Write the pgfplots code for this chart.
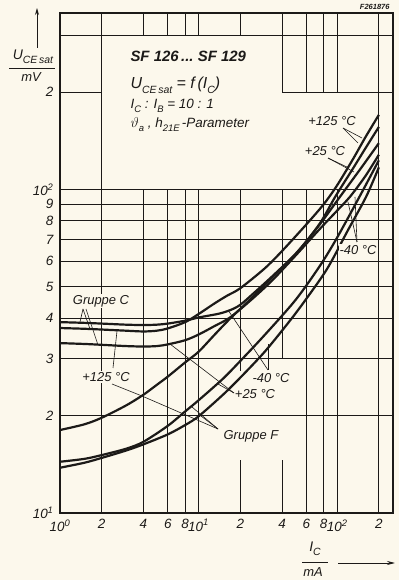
\documentclass[border=0pt]{standalone}
\usepackage{fontspec}
\setmainfont{Liberation Sans}
\usepackage{pgfplots}
\pgfplotsset{compat=1.18}
\usetikzlibrary{arrows.meta}
\definecolor{paper}{RGB}{252,248,236}
\definecolor{ink}{RGB}{28,26,24}
\newcommand\tickfont{\fontsize{13.5}{14}\selectfont\itshape}
\newcommand\labfont{\fontsize{13}{14}\selectfont\itshape}
\newcommand\sub[1]{\raisebox{-0.32em}{\fontsize{10.5}{11}\selectfont #1}}
\newcommand\ssub[1]{\raisebox{-0.3em}{\fontsize{9.5}{10}\selectfont #1}}
\tikzset{gridl/.style={ink, line width=0.85bp},
  ptr/.style={ink, line width=0.6bp},
  lab/.style={font=\labfont, text=ink, fill=paper, inner sep=1bp}}
\pgfplotsset{curve/.style={ink, line width=2.2bp, smooth, no markers}}
\begin{document}
\begin{tikzpicture}
\useasboundingbox (0,0) rectangle (399bp,580bp);
\fill[paper] (0,0) rectangle (399bp,580bp);
\begin{axis}[
  at={(60bp,67bp)}, anchor=south west,
  scale only axis, width=333bp, height=500bp,
  xmode=log, ymode=log, xmin=1, xmax=253, ymin=10, ymax=351,
  axis line style={ink, line width=1.2bp},
  xtick={1,2,4,6,8,10,20,40,60,80,100,200},
  xticklabels={10\textsuperscript{0},2,4,6,8,10\textsuperscript{1},2,4,6,8,10\textsuperscript{2},2},
  ytick={10,20,30,40,50,60,70,80,90,100,200},
  yticklabels={10\textsuperscript{1},2,3,4,5,6,7,8,9,10\textsuperscript{2},2},
  minor xtick={}, minor ytick={},
  major tick length=0pt, tick style={draw=none},
  ticklabel style={font=\tickfont, text=ink},
  xticklabel style={yshift=-3bp},
  yticklabel style={xshift=-3bp},
]
% grid
\draw[gridl] (axis cs:2,10) -- (axis cs:2,351);
\draw[gridl] (axis cs:200,10) -- (axis cs:200,351);
\pgfplotsinvokeforeach{4,6,8,10}{
  \draw[gridl] (axis cs:#1,10) -- (axis cs:#1,100);
  \draw[gridl] (axis cs:#1,300) -- (axis cs:#1,351);
}
\draw[gridl] (axis cs:20,10) -- (axis cs:20,14.6);
\draw[gridl] (axis cs:20,27.5) -- (axis cs:20,100);
\draw[gridl] (axis cs:20,300) -- (axis cs:20,351);
\draw[gridl] (axis cs:40,10) -- (axis cs:40,14.6);
\draw[gridl] (axis cs:40,30) -- (axis cs:40,100);
\draw[gridl] (axis cs:40,200) -- (axis cs:40,351);
\pgfplotsinvokeforeach{60,80,100}{
  \draw[gridl] (axis cs:#1,10) -- (axis cs:#1,100);
  \draw[gridl] (axis cs:#1,200) -- (axis cs:#1,351);
}
\pgfplotsinvokeforeach{20,30,40,50,60,70,80,90,100,300}{
  \draw[gridl] (axis cs:1,#1) -- (axis cs:253,#1);
}
\draw[gridl] (axis cs:1,200) -- (axis cs:2,200);
\draw[gridl] (axis cs:40,200) -- (axis cs:253,200);
% Gruppe C
\addplot[curve] coordinates {(1,38.9) (1.5,38.7) (2,38.5) (3,38.2) (4,38.1) (5,38.2) (6,38.5) (8,39.3) (10,40.2) (14,41.3) (17,42.4) (20,44) (25,47.8) (35,54.5) (51.4,64) (75,78) (105,95) (150,117) (200,139)};
\addplot[curve] coordinates {(1,37.3) (1.5,37.1) (2,36.9) (3,36.6) (4,36.4) (5,36.6) (6,37.2) (8,38.9) (10,41.2) (13,44.4) (16,46.9) (20,49.5) (30,57) (40,64.5) (60,78) (80,90) (100,103) (130,124) (160,145) (200,170)};
\addplot[curve] coordinates {(1,33.5) (1.5,33.3) (2,33.1) (3,32.8) (4,32.7) (5,32.8) (6,33.2) (8,34.2) (10,35.6) (13,37.8) (17,40.3) (25,46.3) (35,53) (51.4,63.2) (75,75.5) (100,86) (124,95) (160,110) (200,128)};
% Gruppe F
\addplot[curve] coordinates {(1,18.05) (1.5,18.8) (2,19.7) (3,21.5) (4,23.2) (5,24.9) (6,26.4) (8,29.2) (10,31.5) (13,35.5) (17,40) (25,46.8) (35,54.2) (51.4,63.8) (75,78.5) (97,95) (130,116) (160,134) (200,156)};
\addplot[curve] coordinates {(1,14.4) (1.5,14.7) (2,15.1) (3,15.8) (4,16.6) (6,18.6) (8,20.6) (10,22.3) (15,26) (20,29.5) (30,35.5) (50,45.5) (75,58) (100,71) (147,96) (200,123)};
\addplot[curve] coordinates {(1,13.8) (1.5,14.3) (2,14.8) (3,15.6) (4,16.3) (6,17.5) (8,18.7) (10,19.9) (15,23.2) (20,26.2) (30,31.5) (45,39) (59,45.5) (85,57) (120,75) (162,95) (200,117)};
\end{axis}
\begin{scope}[x=1bp,y=1bp]
% axis titles
\draw[ink, line width=0.9bp, -{Stealth[length=7bp,width=4bp]}] (37,532) -- (37,572);
\node[text=ink] at (33,523) {\fontsize{14}{14}\selectfont\itshape U\sub{CE\,sat}};
\draw[ink, line width=0.8bp] (9,512) -- (55,512);
\node[text=ink] at (31,503) {\fontsize{13}{13}\selectfont\itshape mV};
\node[text=ink] at (315,31) {\fontsize{14}{14}\selectfont\itshape I\sub{C}};
\draw[ink, line width=0.8bp] (302,18) -- (328,18);
\node[text=ink] at (313,8) {\fontsize{13}{13}\selectfont\itshape mA};
\draw[ink, line width=0.9bp, -{Stealth[length=8bp,width=4bp]}] (338,17) -- (395,17);
\node[text=ink, anchor=east] at (393,573.5) {\fontsize{7.5}{8}\selectfont\bfseries\itshape F261876};
% text block
\node[text=ink, anchor=west] at (127,524) {\fontsize{15}{16}\selectfont\bfseries\itshape SF 126\,...\;SF 129};
\node[text=ink, anchor=west] at (127,495) {\fontsize{16}{16}\selectfont\itshape U\sub{CE\,sat} = f\,(I\sub{C})};
\node[text=ink, anchor=west] at (127,474) {\fontsize{13.5}{14}\selectfont\itshape I\ssub{C} : I\ssub{B} = 10 : 1};
\node[text=ink, anchor=west] at (127,455) {\fontsize{13.5}{14}\selectfont\itshape $\vartheta$\ssub{a} , h\ssub{21E}\,-Parameter};
% Gruppe C
\node[lab] at (101,279) {Gruppe C};
\draw[ptr] (83,271) -- (80,258);
\draw[ptr] (83,271) -- (90,251);
\draw[ptr] (86,271) -- (98,235);
% +125 lower left
\node[lab] at (106,203) {+125 °C};
\draw[ptr] (113,212) -- (117,249);
\draw[ptr] (112,196) -- (142,184);
% -40 middle
\node[lab] at (271,202) {-40 °C};
\draw[ptr] (268,210) -- (228,270);
\draw[ptr] (268,210) -- (268,236);
% +25 middle
\node[lab] at (255,186) {+25 °C};
\draw[ptr] (234,187) -- (170,236);
\draw[ptr] (234,187) -- (218,196);
% Gruppe F
\node[lab] at (251,144) {Gruppe F};
\draw[ptr] (218,151) -- (142,184);
\draw[ptr] (218,151) -- (192,173);
\draw[ptr] (218,151) -- (201,164);
% top right
\node[lab] at (332,459) {+125 °C};
\draw[ptr] (343,452) -- (362,442);
\draw[ptr] (343,452) -- (358,437);
\node[lab] at (325,429) {+25 °C};
\draw[ptr] (328,422) -- (354,408);
\draw[ptr] (328,422) -- (349,412);
\node[lab] at (358,330) {-40 °C};
\draw[ptr] (357,338) -- (348,378);
\draw[ptr] (357,338) -- (355,383);
\end{scope}
\end{tikzpicture}
\end{document}
